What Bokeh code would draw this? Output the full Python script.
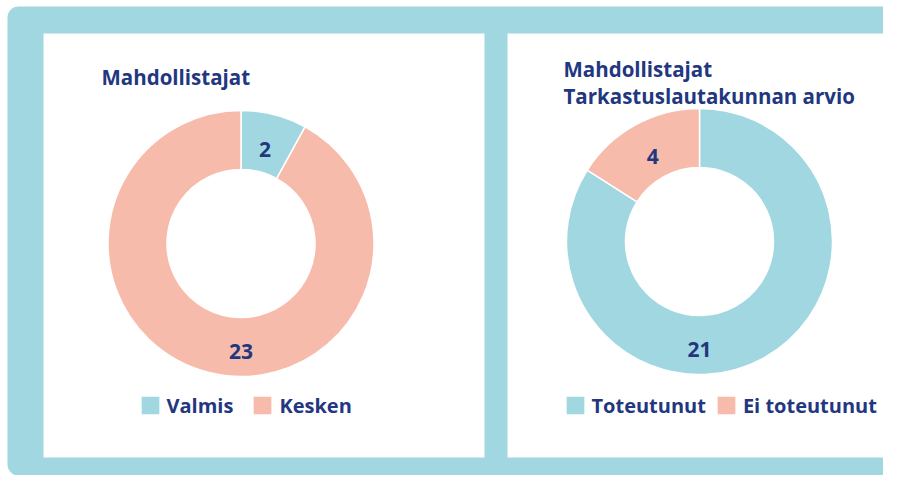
import math
from bokeh.plotting import figure
from bokeh.models import (Range1d, BoxAnnotation, Label, Legend, LegendItem,
                          ColumnDataSource)
from bokeh.core.properties import value
from bokeh.embed import file_html
from bokeh.resources import INLINE

# ---------------- data ----------------
left_title = "Mahdollistajat"
left_categories = ["Valmis", "Kesken"]
left_values = [2, 23]

right_title_lines = ["Mahdollistajat", "Tarkastuslautakunnan arvio"]
right_categories = ["Toteutunut", "Ei toteutunut"]
right_values = [21, 4]

# ---------------- styles ----------------
BLUE = "#a0d7e1"
SALMON = "#f7bbac"
NAVY = "#22377f"
FONT = "Open Sans"
left_colors = [BLUE, SALMON]
right_colors = [BLUE, SALMON]

W, H = 883, 475
PAGE_H = 491  # data y = PAGE_H - pixel y


def Y(py):
    return PAGE_H - py


p = figure(width=W, height=H, output_backend="svg", toolbar_location=None,
           x_range=Range1d(0, W), y_range=Range1d(Y(H), Y(0)),
           min_border=0, min_border_left=0, min_border_right=0,
           min_border_top=0, min_border_bottom=0)
p.axis.visible = False
p.grid.visible = False
p.outline_line_color = None
p.background_fill_color = "white"
p.border_fill_color = "white"

# background and panels
p.add_layout(BoxAnnotation(left=7, right=1200, top=Y(6), bottom=Y(H),
                           fill_color=BLUE, fill_alpha=1, line_color=None,
                           border_radius=11, level="underlay"))
p.add_layout(BoxAnnotation(left=43, right=484, top=Y(33), bottom=Y(457),
                           fill_color="white", fill_alpha=1, line_color=None,
                           level="underlay"))
p.add_layout(BoxAnnotation(left=507, right=1200, top=Y(33), bottom=Y(457),
                           fill_color="white", fill_alpha=1, line_color=None,
                           level="underlay"))

OUTER, INNER = 133, 74


def donut(cats, vals, cols, cx, cy):
    total = float(sum(vals))
    starts, ends, lx, ly = [], [], [], []
    cum = 0.0
    for v in vals:
        s = cum / total
        e = (cum + v) / total
        cum += v
        # bokeh angles: counter-clockwise from +x; chart goes clockwise from top
        starts.append(math.pi / 2 - 2 * math.pi * e)
        ends.append(math.pi / 2 - 2 * math.pi * s)
        if (e - s) > 0.5 and s <= 0.5 <= e:
            mid, r = 0.5, (OUTER + INNER) / 2 + 4
        else:
            mid, r = (s + e) / 2, 97
        th = 2 * math.pi * mid
        lx.append(cx + r * math.sin(th))
        ly.append(cy + r * math.cos(th))
    src = ColumnDataSource(dict(cat=cats, val=vals, start=starts, end=ends,
                                color=cols, lx=lx, ly=ly,
                                txt=[str(v) for v in vals]))
    r = p.annular_wedge(x=cx, y=cy, inner_radius=INNER, outer_radius=OUTER,
                        start_angle="start", end_angle="end",
                        direction="anticlock", fill_color="color",
                        line_color="white", line_width=1.5, source=src)
    p.text(x="lx", y="ly", text="txt", source=src, text_align="center",
           text_baseline="middle", text_font=value(FONT),
           text_font_style="bold", text_font_size="21px", text_color=NAVY)
    return r


rl = donut(left_categories, left_values, left_colors, 240.5, Y(243))
rr = donut(right_categories, right_values, right_colors, 699, Y(241))

# titles
p.add_layout(Label(x=101, y=Y(76), text=left_title, text_font=FONT,
                   text_font_style="bold", text_font_size="20.5px",
                   text_color=NAVY, text_baseline="alphabetic"))
for i, line in enumerate(right_title_lines):
    p.add_layout(Label(x=563, y=Y(68 + 27 * i), text=line, text_font=FONT,
                       text_font_style="bold", text_font_size="20.5px",
                       text_color=NAVY, text_baseline="alphabetic"))


def make_legend(renderer, cats, x_pix, spacing):
    items = [LegendItem(label=c, renderers=[renderer], index=i)
             for i, c in enumerate(cats)]
    lg = Legend(items=items, orientation="horizontal",
                location=(x_pix - 2.5, H - 418.5),
                glyph_width=24, glyph_height=24, label_standoff=5,
                spacing=spacing, padding=0, margin=0, label_height=19,
                label_text_font=FONT, label_text_font_style="bold",
                label_text_font_size="20px", label_text_color=NAVY,
                border_line_color=None, background_fill_alpha=0)
    p.add_layout(lg, "center")


make_legend(rl, left_categories, 140, 17)
make_legend(rr, right_categories, 565, 8)

open("out.html", "w").write(file_html(p, INLINE))
